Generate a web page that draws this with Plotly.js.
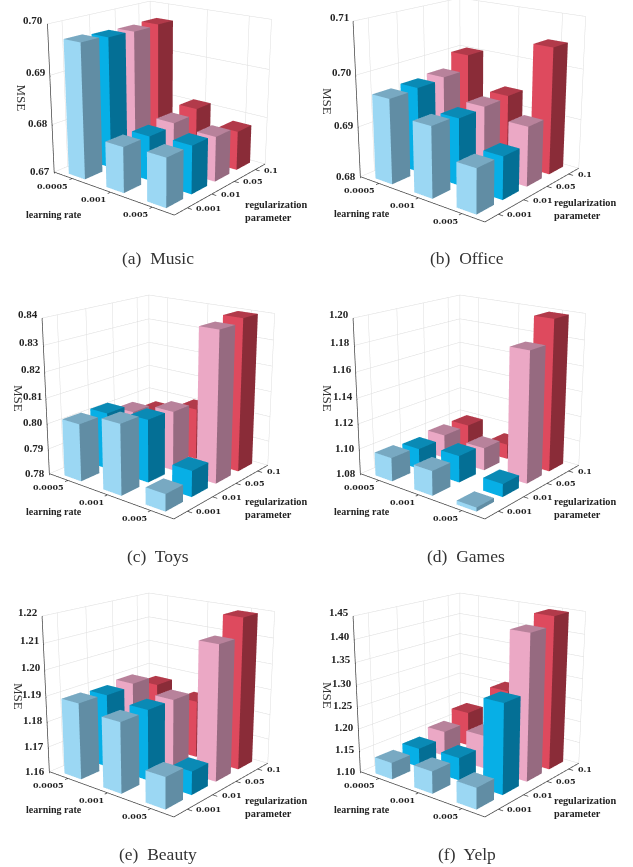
<!DOCTYPE html>
<html><head><meta charset="utf-8">
<script src="https://cdn.plot.ly/plotly-3.0.1.min.js"></script>
<style>html,body{margin:0;padding:0;background:#fff;overflow:hidden;width:633px;height:867px}#p{position:absolute;left:-400px;top:-400px;width:1433px;height:1667px}</style></head>
<body><div id="p"></div>
<script>
const lrLabels = ['0.0005','0.001','0.005'];
const regLabels = ['0.001','0.01','0.05','0.1'];
const panelNames = ['(a)  Music','(b)  Office','(c)  Toys','(d)  Games','(e)  Beauty','(f)  Yelp'];
// rows: learning rate; columns: regularization parameter
const music  = [[0.6973,0.6969,0.6967,0.6969],[0.6792,0.6791,0.6797,0.6807],[0.6797,0.6797,0.6792,0.6781]];
const office = [[0.6966,0.6969,0.6973,0.7002],[0.6937,0.6931,0.6934,0.6937],[0.6885,0.6883,0.6917,0.7049]];
const toys   = [[0.8024,0.8026,0.7992,0.7957],[0.8071,0.8045,0.8036,0.8006],[0.7865,0.7900,0.8379,0.8395]];
const games  = [[1.0985,1.0965,1.0990,1.0990],[1.0990,1.1010,1.0980,1.0920],[1.0830,1.0900,1.1810,1.1985]];
const beauty = [[1.1896,1.1890,1.1900,1.1860],[1.1870,1.1875,1.1875,1.1830],[1.1720,1.1690,1.2120,1.2190]];
const yelp   = [[1.1380,1.1440,1.1590,1.1820],[1.1500,1.1520,1.1770,1.2590],[1.1470,1.3000,1.4270,1.4470]];
const zTicks = [
 ['0.67','0.68','0.69','0.70'],
 ['0.68','0.69','0.70','0.71'],
 ['0.78','0.79','0.80','0.81','0.82','0.83','0.84'],
 ['1.08','1.10','1.12','1.14','1.16','1.18','1.20'],
 ['1.16','1.17','1.18','1.19','1.20','1.21','1.22'],
 ['1.10','1.15','1.20','1.25','1.30','1.35','1.40','1.45']];
const panelValues = [music,office,toys,games,beauty,yelp];
// per regularization: [left face, right face, top]
const barColors = [['#9bd7f3','#618da4','#78a9c2'],['#07afe6','#046f95','#0a8ab5'],['#eba8c5','#966a80','#b8829b'],['#de4a5e','#8a2c38','#b23a4a']];
const panelCentres = [[161,97],[471,98],[160,395],[471,395],[160,693],[471,693]];
const captionPos = [[158,258],[466.5,258],[158,556],[466,556],[158,854],[467,854]];
const lrLabelPos = [[54,214],[362,213],[54,511],[362,511],[54,809],[362,809]];
const regLabelPos = [[243,211],[552,209],[243,508],[552,508],[243,807],[552,807]];
const msePos = [[21.5,98],[328,101],[19,398],[328,398],[19,696],[328,695]];
const sceneAspect = [[0.82,0.81,0.81],[0.85,0.84,0.85],[0.85,0.84,0.85],[0.85,0.84,0.85],[0.85,0.84,0.85],[0.85,0.84,0.85]];
const OFF=400,W=1433,H=1667,DOM=640,halfX=0.22,halfY=0.33,PAD=0.1;
const pxX=v=>(v+OFF)/W, pxY=v=>1-(v+OFF)/H;
function box(cx,cy,z0,z1,cols){
  const a=halfX,b=halfY;
  const X=[cx-a,cx+a,cx+a,cx-a,cx-a,cx+a,cx+a,cx-a],Y=[cy-b,cy-b,cy+b,cy+b,cy-b,cy-b,cy+b,cy+b],Z=[z0,z0,z0,z0,z1,z1,z1,z1];
  const tris=[[0,1,5,0],[0,5,4,0],[1,2,6,1],[1,6,5,1],[4,5,6,2],[4,6,7,2],[2,3,7,1],[2,7,6,1],[3,0,4,0],[3,4,7,0],[0,2,1,2],[0,3,2,2]];
  return {type:'mesh3d',x:X,y:Y,z:Z,i:tris.map(t=>t[0]),j:tris.map(t=>t[1]),k:tris.map(t=>t[2]),
    facecolor:tris.map(t=>cols[t[3]]),flatshading:true,hoverinfo:'skip',showscale:false,
    lighting:{ambient:1,diffuse:0,specular:0,fresnel:0,roughness:1}};
}
function lines(seg,color,width){
  const x=[],y=[],z=[];
  seg.forEach(s=>{x.push(s[0],s[3],null);y.push(s[1],s[4],null);z.push(s[2],s[5],null);});
  return {type:'scatter3d',mode:'lines',x,y,z,line:{color,width},hoverinfo:'skip',showlegend:false};
}
const traces=[],layout={width:W,height:H,margin:{l:0,r:0,t:0,b:0},paper_bgcolor:'rgba(0,0,0,0)',showlegend:false,annotations:[]};
panelValues.forEach((vals,p)=>{
  const name=p===0?'scene':'scene'+(p+1);
  const ticks=zTicks[p].map(Number),z0=ticks[0],z1=ticks[ticks.length-1],dz=z1-z0;
  const nx=3,ny=4;
  vals.forEach((row,i)=>row.forEach((v,j)=>{const t=box(i+0.5,j+0.5,z0,v,barColors[j]);t.scene=name;traces.push(t);}));
  const grid=[],dark=[];
  ticks.forEach(t=>{grid.push([0,0,t,0,ny,t],[0,ny,t,nx,ny,t]);});
  for(let j=0;j<ny;j++)grid.push([0,j+.5,z0,0,j+.5,z1]);
  for(let i=0;i<nx;i++)grid.push([i+.5,ny,z0,i+.5,ny,z1]);
  grid.push([0,ny,z0,0,ny,z1],[0,ny,z0,nx,ny,z0],[0,0,z0,0,ny,z0],[nx,ny,z0,nx,ny,z1]);
  dark.push([0,0,z0,0,0,z1],[0,0,z0,nx,0,z0],[nx,0,z0,nx,ny,z0]);
  ticks.forEach(t=>dark.push([0,0,t,0.06,-0.06,t]));
  for(let i=0;i<nx;i++)dark.push([i+.5,0,z0,i+.5,-0.1,z0]);
  for(let j=0;j<ny;j++)dark.push([nx,j+.5,z0,nx+.1,j+.5,z0]);
  const g=lines(grid,'#dddddd',1);g.scene=name;traces.push(g);
  const d=lines(dark,'#444444',1.5);d.scene=name;traces.push(d);
  const ann=[];
  const fb={family:'Liberation Serif',size:11,color:'#222'};
  ticks.forEach((t,k)=>ann.push({x:0,y:0,z:t,text:'<b>'+zTicks[p][k]+'</b>',showarrow:false,xanchor:'right',yanchor:'middle',xshift:-2,yshift:1+3*k/(ticks.length-1),font:fb}));
  const fs={family:'DejaVu Serif',size:8,color:'#222'};
  lrLabels.forEach((l,i)=>ann.push({x:i+.5,y:0,z:z0,text:'<b>'+l+'</b>',showarrow:false,xanchor:'right',yanchor:'middle',xshift:-2,yshift:-7,font:fs}));
  regLabels.forEach((l,j)=>ann.push({x:nx,y:j+.5,z:z0,text:'<b>'+l+'</b>',showarrow:false,xanchor:'left',yanchor:'middle',xshift:7,yshift:0,font:fs}));
  const c=panelCentres[p], as=sceneAspect[p], k=1+2*PAD;
  layout[name]={domain:{x:[pxX(c[0]-DOM/2),pxX(c[0]+DOM/2)],y:[pxY(c[1]+DOM/2),pxY(c[1]-DOM/2)]},
    bgcolor:'rgba(0,0,0,0)',dragmode:false,aspectmode:'manual',aspectratio:{x:as[0]*k,y:as[1]*k,z:as[2]*k},
    camera:{eye:{x:2.45,y:-3.02,z:1.23},center:{x:0,y:0,z:0},up:{x:0,y:0,z:1},projection:{type:'perspective'}},
    xaxis:{visible:false,range:[-nx*PAD,nx+nx*PAD]},yaxis:{visible:false,range:[-ny*PAD,ny+ny*PAD]},zaxis:{visible:false,range:[z0-dz*PAD,z1+dz*PAD]},annotations:ann};
  const cp=captionPos[p],lp=lrLabelPos[p],rp=regLabelPos[p],mp=msePos[p];
  layout.annotations.push({xref:'paper',yref:'paper',x:pxX(cp[0]),y:pxY(cp[1]),text:panelNames[p],showarrow:false,xanchor:'center',yanchor:'middle',font:{family:'Liberation Serif',size:17.5,color:'#333'}});
  layout.annotations.push({xref:'paper',yref:'paper',x:pxX(lp[0]),y:pxY(lp[1]),text:'<b>learning rate</b>',showarrow:false,xanchor:'center',yanchor:'middle',font:{family:'Liberation Serif',size:10,color:'#222'}});
  layout.annotations.push({xref:'paper',yref:'paper',x:pxX(rp[0]),y:pxY(rp[1]),text:'<b>regularization<br>parameter</b>',showarrow:false,xanchor:'left',yanchor:'middle',align:'left',font:{family:'Liberation Serif',size:10.3,color:'#222'}});
  layout.annotations.push({xref:'paper',yref:'paper',x:pxX(mp[0]),y:pxY(mp[1]),text:'MSE',textangle:90,showarrow:false,xanchor:'center',yanchor:'middle',font:{family:'Liberation Serif',size:13,color:'#333'}});
});
Plotly.newPlot('p',traces,layout,{displayModeBar:false,responsive:false});
</script></body></html>
